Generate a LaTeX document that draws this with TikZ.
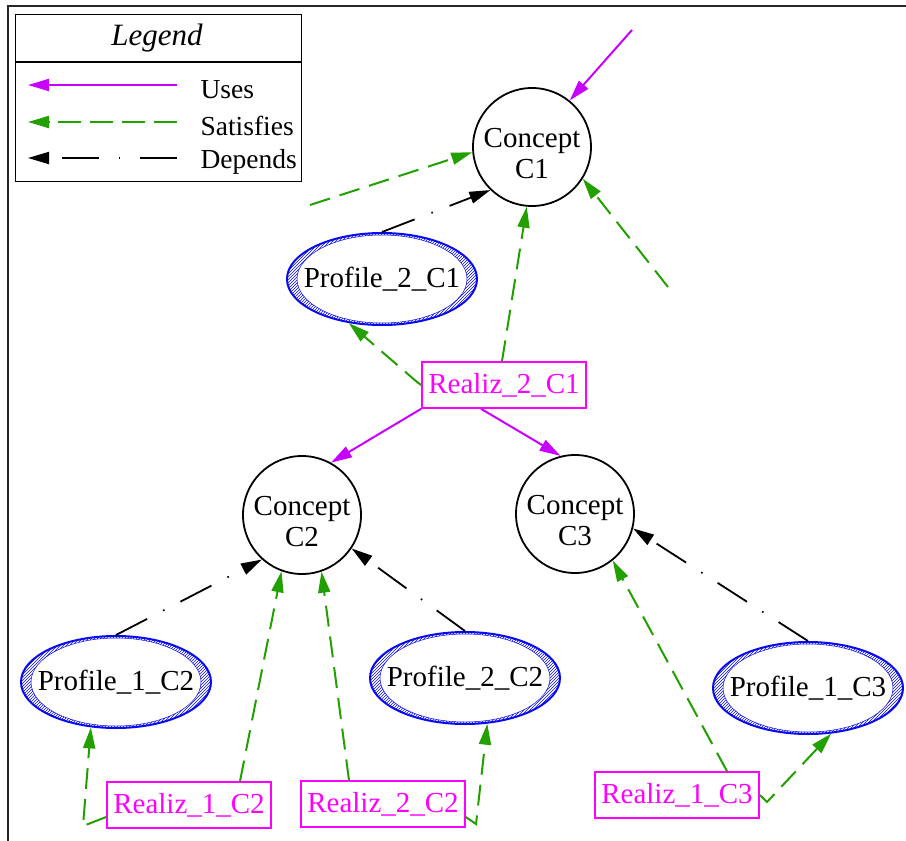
\documentclass[tikz,border=0pt]{standalone}
\usepackage{fontspec}
\setmainfont{Liberation Serif}
\usetikzlibrary{arrows.meta,shapes.geometric,patterns}

\definecolor{usescol}{RGB}{200,0,255}
\definecolor{satcol}{RGB}{34,160,0}
\definecolor{realcol}{RGB}{255,0,255}
\definecolor{profcol}{RGB}{10,10,240}

\begin{document}
\begin{tikzpicture}[x=1pt,y=-1pt,
  every node/.style={font=\fontsize{29}{31}\selectfont},
  tip/.style={-{Triangle[length=21pt,width=12pt]}},
  uses/.style={tip, usescol, line width=2pt},
  satisfies/.style={tip, satcol, line width=2pt, dash pattern=on 21pt off 10pt},
  depends/.style={tip, black, line width=1.8pt, dash pattern=on 35pt off 18pt on 1.5pt off 18pt},
  concept/.style={circle, draw, line width=1.8pt, minimum size=118pt, inner sep=0pt, align=center,
    text height=62pt, text depth=0pt},
  profile/.style={ellipse, draw=profcol, line width=2pt, minimum width=190pt, minimum height=92pt, inner sep=0pt,
    path picture={
      \fill[pattern=north east lines, pattern color=profcol, even odd rule]
        (path picture bounding box.south west) rectangle (path picture bounding box.north east)
        (path picture bounding box.center) ellipse [x radius=85pt, y radius=44pt];
      \draw[profcol, line width=0.5pt] (path picture bounding box.center) ellipse [x radius=85pt, y radius=44pt];
    }},
  realiz/.style={rectangle, draw=realcol, text=realcol, line width=1.6pt, minimum width=164pt, minimum height=46pt, inner sep=0pt},
  legtext/.style={anchor=base west, font=\fontsize{27.5}{30}\selectfont},
]
\useasboundingbox (0,0) rectangle (906,841);

% outer frame
\draw[line width=2pt, black!85] (8,841) -- (8,6) -- (906,6);

% legend
\node[draw, line width=1.2pt, minimum width=286pt, minimum height=167pt, anchor=north west, inner sep=0pt] (legend) at (15,14) {};
\draw[line width=1.2pt] ([yshift=-48pt]legend.north west) -- ([yshift=-48pt]legend.north east);
\node[font=\fontsize{31}{33}\selectfont\itshape] (ltitle) at (157,38) {Legend};
\node[legtext] (luses) at (197,98) {Uses};
\node[legtext] (lsat) at (197,135) {Satisfies};
\node[legtext] (ldep) at (197,168) {Depends};
\coordinate (lu1) at (177,85);  \coordinate (lu0) at (28,85);
\coordinate (ls1) at (177,122); \coordinate (ls0) at (28,122);
\coordinate (ld1) at (177,158); \coordinate (ld0) at (28,158);
\draw[uses] (lu1) -- (lu0);
\draw[satisfies, dash pattern=on 23pt off 9pt] (ls1) -- (ls0);
\draw[depends, dash pattern=on 37pt off 20pt on 1.5pt off 20pt] (ld1) -- (ld0);

% concepts
\node[concept] (C1) at (532,147) {Concept\\C1};
\node[concept] (C2) at (302,515) {Concept\\C2};
\node[concept] (C3) at (575,514) {Concept\\C3};

% profiles
\node[profile] (P2C1) at (382,279) {\makebox[0pt]{Profile\_2\_C1}};
\node[profile] (P1C2) at (116,682) {\makebox[0pt]{Profile\_1\_C2}};
\node[profile] (P2C2) at (465,678) {\makebox[0pt]{Profile\_2\_C2}};
\node[profile] (P1C3) at (808,688) {\makebox[0pt]{Profile\_1\_C3}};

% realizations
\node[realiz] (R2C1) at (504,385) {Realiz\_2\_C1};
\node[realiz] (R1C2) at (189,805) {Realiz\_1\_C2};
\node[realiz] (R2C2) at (383,804) {Realiz\_2\_C2};
\node[realiz] (R1C3) at (677,795) {Realiz\_1\_C3};

% loose ends of connectors
\coordinate (u0) at (632,30);
\coordinate (s0) at (310,205);
\coordinate (s1) at (668,287);
\coordinate (k1) at (417,382);
\coordinate (k2) at (83,826);
\coordinate (k3) at (476,824);
\coordinate (k4) at (767,802);

% connectors around C1
\draw[uses] (u0) -- (C1.51);
\draw[satisfies] (s0) -- (C1.185);
\draw[depends] (P2C1.north) -- (C1.226);
\draw[satisfies] ([xshift=-2pt]R2C1.north) -- (C1.265);
\draw[satisfies] (s1) -- (C1.328);
\draw[satisfies] (R2C1.west) -- (k1) -- (P2C1.233);

% Realiz_2_C1 uses C2 and C3
\draw[uses] (R2C1.south west) -- (C2.61);
\draw[uses] ([xshift=-23pt]R2C1.south) -- (C3.104);

% connectors around C2
\draw[depends] (P1C2.north) -- (C2.228);
\draw[satisfies] ([xshift=51pt]R1C2.north) -- (C2.250);
\draw[satisfies] ([xshift=-34pt]R2C2.north) -- (C2.289);
\draw[depends] (P2C2.north) -- (C2.326);
\draw[satisfies] ([yshift=-12pt]R1C2.west) -- (k2) -- (P1C2.241);
\draw[satisfies] ([yshift=-13pt]R2C2.east) -- (k3) -- (P2C2.296);

% connectors around C3
\draw[satisfies] ([xshift=50pt]R1C3.north) -- (C3.309);
\draw[depends] (P1C3.north) -- (C3.346);
\draw[satisfies] (R1C3.east) -- (k4) -- (P1C3.297);
\end{tikzpicture}
\end{document}
